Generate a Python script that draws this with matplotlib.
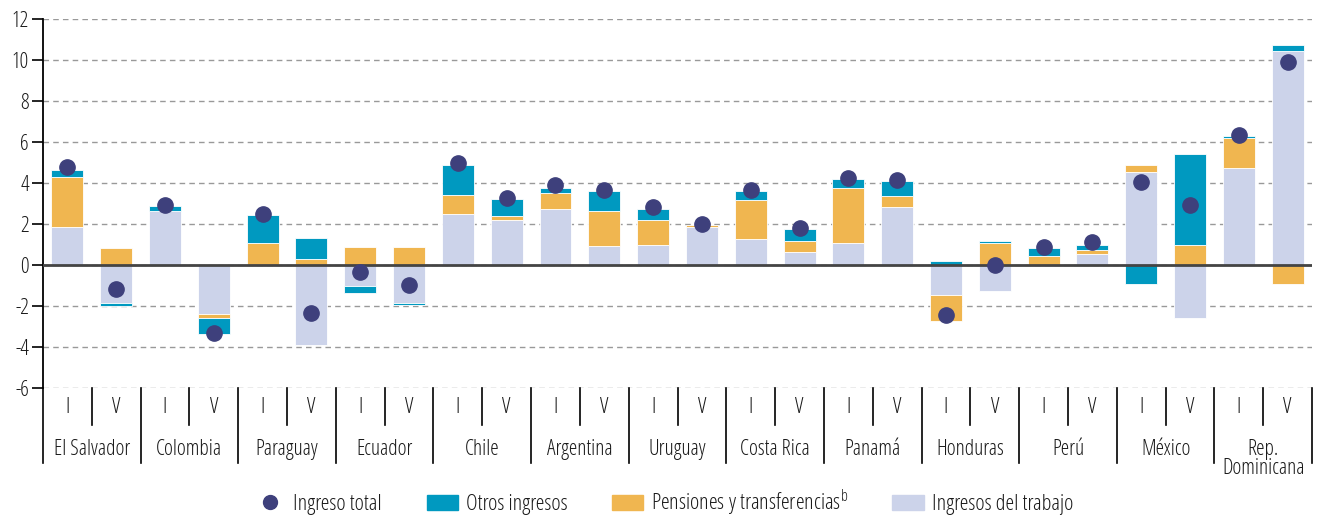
import numpy as np
import matplotlib
matplotlib.use('Agg')
import matplotlib.pyplot as plt
from matplotlib.lines import Line2D
from matplotlib.patches import Patch

plt.rcParams['font.family'] = ['Open Sans', 'DejaVu Sans']
plt.rcParams['font.stretch'] = 'condensed'
plt.rcParams['axes.unicode_minus'] = False  # plain hyphen like the original

countries = ['El Salvador', 'Colombia', 'Paraguay', 'Ecuador', 'Chile', 'Argentina', 'Uruguay',
             'Costa Rica', 'Panamá', 'Honduras', 'Perú', 'México', 'Rep.\nDominicana']
periods = ['I', 'V']

# one value per bar: country by country, period I then V
trabajo = [1.86, -1.87, 2.64, -2.41, 0.00, -3.88, -1.01, -1.87, 2.48, 2.20, 2.72, 0.91, 0.99,
           1.86, 1.25, 0.64, 1.07, 2.82, -1.45, -1.27, 0.00, 0.55, 4.54, -2.57, 4.72, 10.46]
pensiones = [2.42, 0.81, 0.00, -0.18, 1.06, 0.29, 0.88, 0.88, 0.94, 0.18, 0.80, 1.74, 1.21,
             0.11, 1.91, 0.52, 2.69, 0.52, -1.29, 1.07, 0.46, 0.17, 0.36, 0.99, 1.49, -0.91]
otros = [0.35, -0.12, 0.26, -0.77, 1.38, 1.03, -0.34, -0.08, 1.48, 0.86, 0.24, 0.95, 0.52,
         -0.05, 0.44, 0.60, 0.44, 0.76, 0.20, 0.09, 0.35, 0.27, -0.91, 4.42, 0.09, 0.26]
total = [4.76, -1.16, 2.93, -3.31, 2.51, -2.36, -0.36, -0.98, 4.95, 3.27, 3.91, 3.65, 2.85,
         1.99, 3.65, 1.82, 4.25, 4.15, -2.44, 0.00, 0.86, 1.11, 4.07, 2.93, 6.34, 9.89]

c_trab = '#ccd3ea'
c_pens = '#f0b650'
c_otros = '#0099c0'
c_dot = '#3e407c'
c_text = '#1a1a1a'

fig = plt.figure(figsize=(13.22, 5.18), dpi=100)
ax = fig.add_axes([0.0325, 0.251, 0.960, 0.7124])

x = np.arange(len(total))
pos_bottom = np.zeros(len(x))  # positive parts stack up from 0
neg_bottom = np.zeros(len(x))  # negative parts stack down from 0
for vals, col in [(trabajo, c_trab), (pensiones, c_pens), (otros, c_otros)]:
    v = np.array(vals)
    bottom = np.where(v >= 0, pos_bottom, neg_bottom)
    ax.bar(x, v, bottom=bottom, width=0.655, color=col, edgecolor='white', linewidth=0.6, zorder=2)
    pos_bottom += np.where(v >= 0, v, 0)
    neg_bottom += np.where(v < 0, v, 0)

ax.plot(x, total, 'o', color=c_dot, markersize=11, zorder=4)  # ingreso total
ax.axhline(0, color='#444444', linewidth=2, zorder=3)

ax.set_xlim(-0.5, len(x) - 0.5)
ax.set_ylim(-6, 12)
ax.set_yticks(range(-6, 13, 2))
ax.yaxis.grid(True, linestyle=(0, (4, 3)), color='#999999', linewidth=1)
ax.set_axisbelow(True)
ax.tick_params(axis='y', length=8, width=1.2, labelsize=15.5, labelcolor=c_text, pad=2)
ax.set_xticks([])
for s in ['top', 'right', 'bottom']:
    ax.spines[s].set_visible(False)
ax.spines['left'].set_linewidth(1.3)

# category axis below the plot
trans = ax.get_xaxis_transform()
for k, name in enumerate(countries):
    ax.plot([2 * k - 0.5, 2 * k - 0.5], [0, -0.203], color='black', lw=1.2, transform=trans, clip_on=False)
    ax.plot([2 * k + 0.5, 2 * k + 0.5], [0, -0.100], color='black', lw=1.2, transform=trans, clip_on=False)
    for j, p in enumerate(periods):
        ax.text(2 * k + j, -0.054, p, ha='center', va='center', fontsize=15.5, color=c_text, transform=trans)
    ax.text(2 * k + 0.5, -0.138, name, ha='center', va='top', fontsize=15.5, color=c_text,
            linespacing=0.9, transform=trans)
ax.plot([len(x) - 0.5, len(x) - 0.5], [0, -0.203], color='black', lw=1.2, transform=trans, clip_on=False)

handles = [Line2D([], [], marker='o', color=c_dot, linestyle='none', markersize=10),
           Patch(color=c_otros), Patch(color=c_pens), Patch(color=c_trab)]
labels = ['Ingreso total', 'Otros ingresos', 'Pensiones y transferencias$^{\\mathregular{b}}$', 'Ingresos del trabajo']
fig.legend(handles, labels, loc='center', bbox_to_anchor=(0.502, 0.029), ncol=4, frameon=False,
           fontsize=16, handlelength=1.4, handleheight=0.72, handletextpad=0.36, columnspacing=2.0,
           labelcolor=c_text)

plt.savefig('out.png')
